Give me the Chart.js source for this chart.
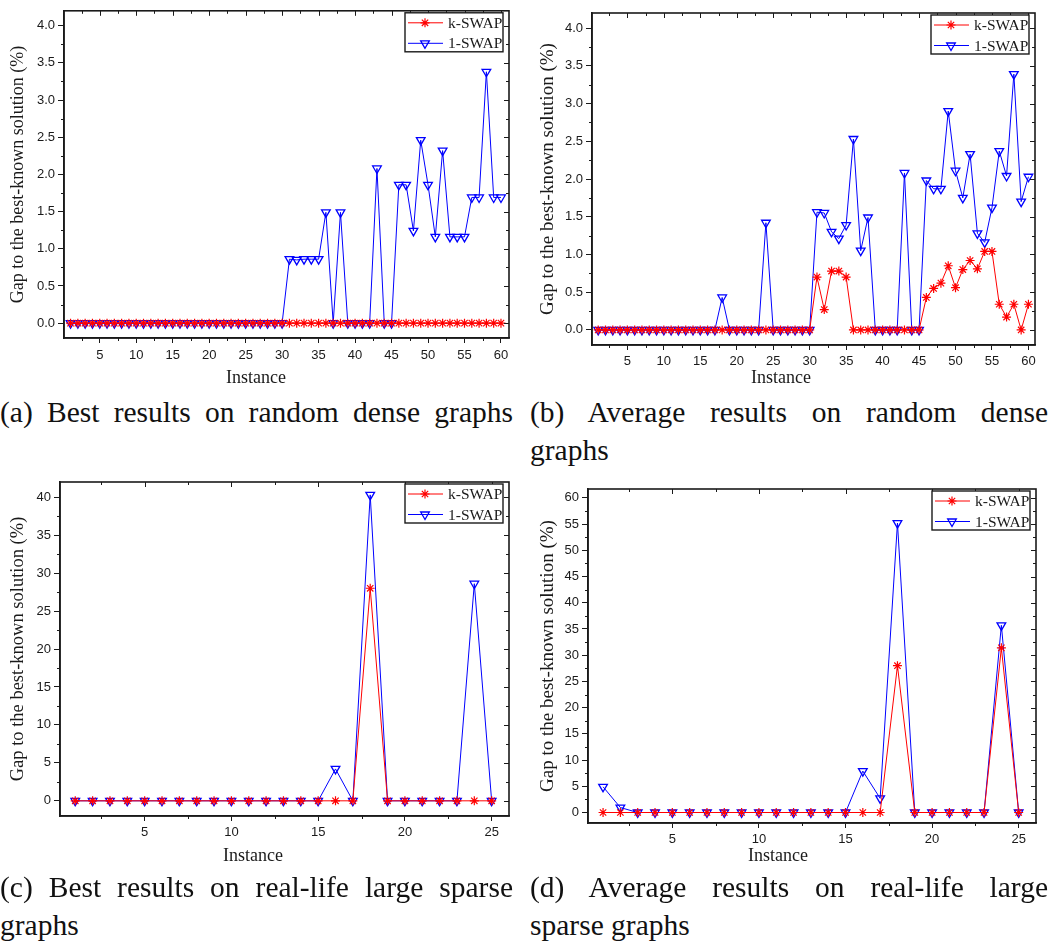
<!DOCTYPE html>
<html>
<head>
<meta charset="utf-8">
<title>k-SWAP vs 1-SWAP</title>
<script src="https://cdn.jsdelivr.net/npm/chart.js@4.4.0/dist/chart.umd.min.js"></script>
<style>
  body { margin: 0; background: #fff; width: 1051px; height: 945px; position: relative; overflow: hidden; }
  canvas { position: absolute; }
  .cap { position: absolute; font-family: "Liberation Serif", "Times New Roman", serif; font-size: 29.5px; line-height: 38px; white-space: nowrap; color: #111; }
  .fill { text-align: justify; text-align-last: justify; white-space: normal; }
</style>
</head>
<body>
<canvas id="chartA" width="520" height="392" style="left:0;top:0"></canvas>
<canvas id="chartB" width="526" height="392" style="left:525px;top:0"></canvas>
<canvas id="chartC" width="520" height="400" style="left:0;top:470px"></canvas>
<canvas id="chartD" width="526" height="400" style="left:525px;top:470px"></canvas>

<div class="cap fill" style="left:0;top:393px;width:513px">(a) Best results on random dense graphs</div>
<div class="cap fill" style="left:530px;top:393px;width:518px">(b) Average results on random dense</div>
<div class="cap" style="left:530px;top:431px">graphs</div>
<div class="cap fill" style="left:0;top:868px;width:513px">(c) Best results on real-life large sparse</div>
<div class="cap" style="left:0;top:906px">graphs</div>
<div class="cap fill" style="left:530px;top:868px;width:518px">(d) Average results on real-life large</div>
<div class="cap" style="left:530px;top:906px">sparse graphs</div>

<script>
// Instances (x values)
const instancesDense = [
  1, 2, 3, 4, 5, 6, 7, 8, 9, 10, 11, 12, 13, 14, 15, 16, 17, 18, 19, 20,
  21, 22, 23, 24, 25, 26, 27, 28, 29, 30, 31, 32, 33, 34, 35, 36, 37, 38, 39, 40,
  41, 42, 43, 44, 45, 46, 47, 48, 49, 50, 51, 52, 53, 54, 55, 56, 57, 58, 59, 60
];
const instancesSparse = [
  1, 2, 3, 4, 5, 6, 7, 8, 9, 10, 11, 12, 13, 14, 15, 16, 17, 18, 19, 20, 21, 22, 23, 24, 25
];

// (a) best results, random dense graphs
const kSwapBestDense = [
  0, 0, 0, 0, 0, 0, 0, 0, 0, 0, 0, 0, 0, 0, 0, 0, 0, 0, 0, 0,
  0, 0, 0, 0, 0, 0, 0, 0, 0, 0, 0, 0, 0, 0, 0, 0, 0, 0, 0, 0,
  0, 0, 0, 0, 0, 0, 0, 0, 0, 0, 0, 0, 0, 0, 0, 0, 0, 0, 0, 0
];
const oneSwapBestDense = [
  0, 0, 0, 0, 0, 0, 0, 0, 0, 0, 0, 0, 0, 0, 0, 0, 0, 0, 0, 0,
  0, 0, 0, 0, 0, 0, 0, 0, 0, 0, 0.86, 0.85, 0.86, 0.86, 0.86, 1.49, 0, 1.49, 0, 0,
  0, 0, 2.08, 0, 0, 1.86, 1.86, 1.24, 2.46, 1.86, 1.16, 2.32, 1.16, 1.16, 1.16, 1.69, 1.69, 3.38, 1.69, 1.69
];

// (b) average results, random dense graphs
const kSwapAvgDense = [
  0, 0, 0, 0, 0, 0, 0, 0, 0, 0, 0, 0, 0, 0, 0, 0, 0, 0, 0, 0,
  0, 0, 0, 0, 0, 0, 0, 0, 0, 0, 0.70, 0.27, 0.78, 0.78, 0.70, 0, 0, 0, 0, 0,
  0, 0, 0, 0, 0, 0.43, 0.55, 0.62, 0.85, 0.56, 0.80, 0.92, 0.81, 1.04, 1.04, 0.34, 0.17, 0.34, 0, 0.34
];
const oneSwapAvgDense = [
  0, 0, 0, 0, 0, 0, 0, 0, 0, 0, 0, 0, 0, 0, 0, 0, 0, 0.43, 0, 0,
  0, 0, 0, 1.42, 0, 0, 0, 0, 0, 0, 1.56, 1.55, 1.30, 1.21, 1.39, 2.53, 1.05, 1.49, 0, 0,
  0, 0, 2.08, 0, 0, 1.98, 1.87, 1.87, 2.90, 2.11, 1.75, 2.33, 1.28, 1.16, 1.62, 2.37, 2.04, 3.39, 1.70, 2.03
];

// (c) best results, real-life large sparse graphs
const kSwapBestSparse = [0, 0, 0, 0, 0, 0, 0, 0, 0, 0, 0, 0, 0, 0, 0, 0, 0, 28.0, 0, 0, 0, 0, 0, 0, 0];
const oneSwapBestSparse = [0, 0, 0, 0, 0, 0, 0, 0, 0, 0, 0, 0, 0, 0, 0, 4.2, 0, 40.3, 0, 0, 0, 0, 0, 28.6, 0];

// (d) average results, real-life large sparse graphs
const kSwapAvgSparse = [0, 0, 0, 0, 0, 0, 0, 0, 0, 0, 0, 0, 0, 0, 0, 0, 0, 28.0, 0, 0, 0, 0, 0, 31.4, 0];
const oneSwapAvgSparse = [4.9, 0.95, 0, 0, 0, 0, 0, 0, 0, 0, 0, 0, 0, 0, 0, 7.9, 2.7, 55.2, 0, 0, 0, 0, 0, 35.7, 0];

// Tick values
const xTicksDense = [5, 10, 15, 20, 25, 30, 35, 40, 45, 50, 55, 60];
const xTicksSparse = [5, 10, 15, 20, 25];
const yTicksDense = [0, 0.5, 1.0, 1.5, 2.0, 2.5, 3.0, 3.5, 4.0];
const yTicksSparseBest = [0, 5, 10, 15, 20, 25, 30, 35, 40];
const yTicksSparseAvg = [0, 5, 10, 15, 20, 25, 30, 35, 40, 45, 50, 55, 60];

const seriesNames = ['k-SWAP', '1-SWAP'];
const yTitle = 'Gap to the best-known solution (%)';
const xTitle = 'Instance';

const INK = '#1a1a1a';
const SANS = '"Liberation Sans", Arial, sans-serif';
const SERIF = '"Liberation Serif", "Times New Roman", serif';

// frame, minor ticks, mirrored ticks, x title and legend
const framePlugin = {
  id: 'frame',
  afterDraw(chart, args, opts) {
    const ctx = chart.ctx;
    const a = chart.chartArea;
    const xs = chart.scales.x, ys = chart.scales.y;
    ctx.save();
    ctx.strokeStyle = INK;
    ctx.lineWidth = 1.6;
    ctx.strokeRect(a.left, a.top, a.right - a.left, a.bottom - a.top);

    const minors = (scale) => {
      const t = scale.ticks.map(k => k.value);
      const step = t[1] - t[0];
      const out = [];
      for (let v = t[0] - step / 2; v <= scale.max; v += step / 2) {
        if (v < scale.min) continue;
        out.push({ v, major: t.some(m => Math.abs(m - v) < 1e-9) });
      }
      return out;
    };

    ctx.lineWidth = 1;
    ctx.beginPath();
    minors(xs).forEach(({ v, major }) => {
      const px = Math.round(xs.getPixelForValue(v)) + 0.5;
      if (!major) { ctx.moveTo(px, a.bottom); ctx.lineTo(px, a.bottom + 3); }
      const len = major ? 5 : 3;
      ctx.moveTo(px, a.top); ctx.lineTo(px, a.top + len);
    });
    minors(ys).forEach(({ v, major }) => {
      const py = Math.round(ys.getPixelForValue(v)) + 0.5;
      if (!major) { ctx.moveTo(a.left, py); ctx.lineTo(a.left - 3, py); }
      const len = major ? 5 : 3;
      ctx.moveTo(a.right, py); ctx.lineTo(a.right - len, py);
    });
    ctx.stroke();

    // x title
    ctx.fillStyle = INK;
    ctx.font = `18px ${SERIF}`;
    ctx.textAlign = 'center';
    ctx.textBaseline = 'middle';
    ctx.fillText(xTitle, opts.titleX, opts.titleY);

    // legend
    const bw = 98, bh = 39;
    const bx = a.right - 6 - bw, by = a.top + 2;
    ctx.fillStyle = '#fff';
    ctx.fillRect(bx, by, bw, bh);
    ctx.lineWidth = 1.4;
    ctx.strokeStyle = INK;
    ctx.strokeRect(bx, by, bw, bh);
    chart.data.datasets.forEach((ds, i) => {
      const ry = by + 10 + i * 20.5;
      ctx.strokeStyle = ds.borderColor;
      ctx.lineWidth = ds.borderWidth;
      ctx.beginPath();
      ctx.moveTo(bx + 3, ry);
      ctx.lineTo(bx + 38, ry);
      ctx.stroke();
      ctx.lineWidth = ds.pointBorderWidth;
      ctx.fillStyle = 'rgba(0,0,0,0)';
      Chart.helpers.drawPoint(ctx, {
        pointStyle: ds.pointStyle, radius: ds.pointRadius,
        rotation: ds.pointRotation || 0, borderWidth: ds.pointBorderWidth
      }, bx + 20, ry);
      ctx.fillStyle = INK;
      ctx.font = `15.5px ${SERIF}`;
      ctx.textAlign = 'left';
      ctx.fillText(ds.label, bx + 43, ry + 1);
    });
    ctx.restore();
  }
};

function makePanel(id, p) {
  const canvas = document.getElementById(id);
  const W = canvas.width, H = canvas.height;
  const toPts = (vals) => vals.map((v, i) => ({ x: p.instances[i], y: v }));

  return new Chart(canvas, {
    type: 'line',
    data: {
      datasets: [
        {
          label: seriesNames[0],
          data: toPts(p.kSwap),
          borderColor: '#ff0000',
          borderWidth: 1,
          pointStyle: 'star',
          pointRadius: 4.5,
          pointBorderWidth: 1.2,
          pointBorderColor: '#ff0000',
          pointBackgroundColor: 'rgba(0,0,0,0)',
          tension: 0
        },
        {
          label: seriesNames[1],
          data: toPts(p.oneSwap),
          borderColor: '#0000ff',
          borderWidth: 1,
          pointStyle: 'triangle',
          pointRotation: 180,
          pointRadius: 5,
          pointBorderWidth: 1.3,
          pointBorderColor: '#0000ff',
          pointBackgroundColor: 'rgba(0,0,0,0)',
          tension: 0
        }
      ]
    },
    options: {
      responsive: false,
      animation: false,
      events: [],
      layout: { padding: { left: 0, top: p.area.top, right: W - p.area.right, bottom: 0 } },
      plugins: {
        legend: { display: false },
        tooltip: { enabled: false },
        frame: { titleX: p.titleX, titleY: p.titleY }
      },
      scales: {
        x: {
          type: 'linear',
          min: p.xMin, max: p.xMax,
          afterBuildTicks: (s) => { s.ticks = p.xTicks.map(v => ({ value: v })); },
          afterFit: (s) => { s.height = H - p.area.bottom; },
          grid: { drawOnChartArea: false, tickLength: 5, color: INK },
          border: { display: true, color: INK, width: 1.6 },
          ticks: { color: INK, font: { family: SANS, size: 13 }, padding: p.xPad, maxRotation: 0, autoSkip: false }
        },
        y: {
          type: 'linear',
          min: p.yMin, max: p.yMax,
          afterBuildTicks: (s) => { s.ticks = p.yTicks.map(v => ({ value: v })); },
          afterFit: (s) => { s.width = p.area.left; },
          grid: { drawOnChartArea: false, tickLength: 6, color: INK },
          border: { display: true, color: INK, width: 1.6 },
          ticks: {
            color: INK, font: { family: SANS, size: 13 }, padding: 3, autoSkip: false,
            callback: (v) => v.toFixed(p.decimals)
          },
          title: {
            display: true, text: yTitle, color: INK,
            font: { family: SERIF, size: p.yTitleSize },
            padding: { top: p.yTitlePad, bottom: 0 }
          }
        }
      }
    },
    plugins: [framePlugin]
  });
}

makePanel('chartA', {
  instances: instancesDense, kSwap: kSwapBestDense, oneSwap: oneSwapBestDense,
  xTicks: xTicksDense, yTicks: yTicksDense, xMin: 0.1, xMax: 61.1, yMin: -0.2, yMax: 4.2, decimals: 1,
  area: { left: 64, top: 7, right: 509, bottom: 338 }, xPad: 5,
  yTitleSize: 18, yTitlePad: 7, titleX: 256, titleY: 378
});
makePanel('chartB', {
  instances: instancesDense, kSwap: kSwapAvgDense, oneSwap: oneSwapAvgDense,
  xTicks: xTicksDense, yTicks: yTicksDense, xMin: 0.15, xMax: 60.9, yMin: -0.2, yMax: 4.2, decimals: 1,
  area: { left: 67, top: 13, right: 510, bottom: 345 }, xPad: 4,
  yTitleSize: 19, yTitlePad: 12, titleX: 256, titleY: 378
});
makePanel('chartC', {
  instances: instancesSparse, kSwap: kSwapBestSparse, oneSwap: oneSwapBestSparse,
  xTicks: xTicksSparse, yTicks: yTicksSparseBest, xMin: 0.12, xMax: 26, yMin: -2, yMax: 42, decimals: 0,
  area: { left: 60, top: 12, right: 509, bottom: 346 }, xPad: 4,
  yTitleSize: 18.5, yTitlePad: 7, titleX: 253, titleY: 386
});
makePanel('chartD', {
  instances: instancesSparse, kSwap: kSwapAvgSparse, oneSwap: oneSwapAvgSparse,
  xTicks: xTicksSparse, yTicks: yTicksSparseAvg, xMin: 0.13, xMax: 26, yMin: -2, yMax: 61.7, decimals: 0,
  area: { left: 63, top: 19, right: 511, bottom: 353 }, xPad: 4,
  yTitleSize: 19, yTitlePad: 12, titleX: 253, titleY: 386
});
</script>
</body>
</html>
